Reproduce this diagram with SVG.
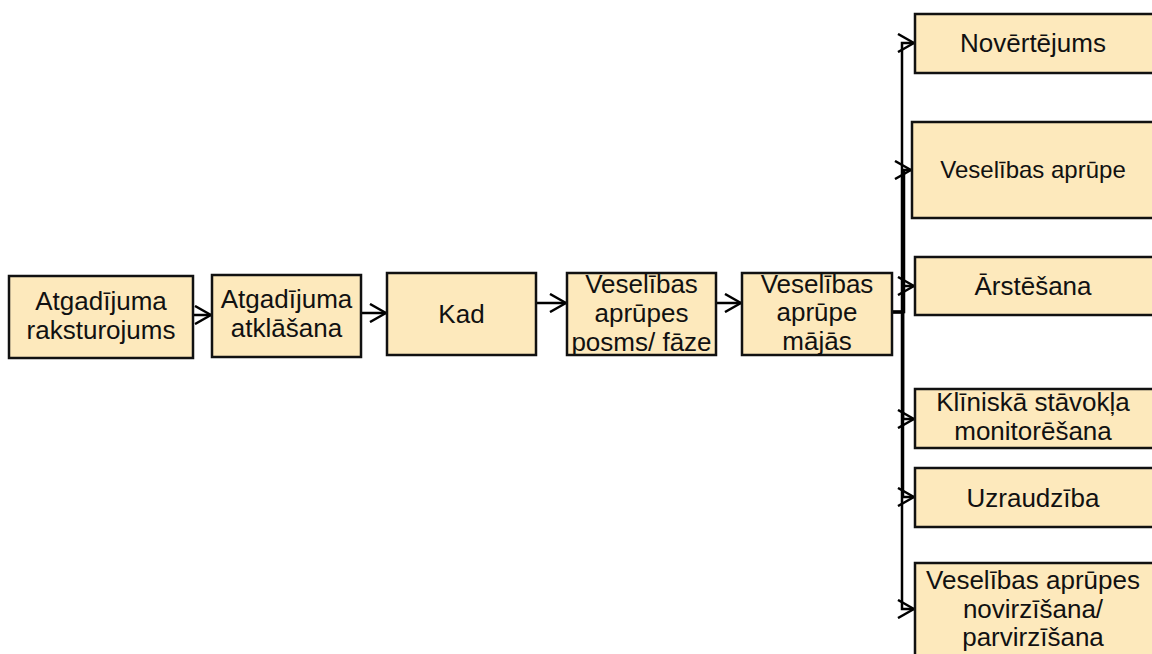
<svg xmlns="http://www.w3.org/2000/svg" width="1152" height="654" viewBox="0 0 1152 654">
<defs>
<style>
.box{fill:#FDE9BC;stroke:#111;stroke-width:2.5}
.t{font-family:"Liberation Sans",Arial,sans-serif;font-size:26px;fill:#111;text-anchor:middle}
.s{font-size:24px}
.c{fill:none;stroke:#000;stroke-width:2.5}
</style>
<marker id="ah" viewBox="0 0 18 20" refX="17" refY="10" markerWidth="18" markerHeight="20" markerUnits="userSpaceOnUse" orient="auto">
<path d="M1,1 L17,10 L1,19" fill="none" stroke="#000" stroke-width="2.5"/>
</marker>
</defs>
<rect width="1152" height="654" fill="#fff"/>
<g id="connectors">
<path class="c" d="M193,315 H211" marker-end="url(#ah)"/>
<path class="c" d="M361,313 H386" marker-end="url(#ah)"/>
<path class="c" d="M536,303 H566" marker-end="url(#ah)"/>
<path class="c" d="M716,303 H741" marker-end="url(#ah)"/>
<path class="c" d="M892,312 H902 V43 H914" marker-end="url(#ah)"/>
<path class="c" d="M892,312 H904 V170 H911" marker-end="url(#ah)"/>
<path class="c" d="M892,312 H903 V286 H914" marker-end="url(#ah)"/>
<path class="c" d="M892,312 H903 V419 H914" marker-end="url(#ah)"/>
<path class="c" d="M892,312 H903 V497 H914" marker-end="url(#ah)"/>
<path class="c" d="M892,312 H902 V609 H914" marker-end="url(#ah)"/>
</g>
<g id="n1"><rect class="box" x="9" y="276" width="184" height="82"/><text class="t" x="101" y="310">Atgadījuma</text><text class="t" x="101" y="339">raksturojums</text></g>
<g id="n2"><rect class="box" x="212" y="275" width="149" height="82"/><text class="t" x="286.5" y="308">Atgadījuma</text><text class="t" x="286.5" y="337">atklāšana</text></g>
<g id="n3"><rect class="box" x="387" y="273" width="149" height="82"/><text class="t" x="461.5" y="323">Kad</text></g>
<g id="n4"><rect class="box" x="567" y="273" width="149" height="82"/><text class="t" x="641.5" y="293">Veselības</text><text class="t" x="641.5" y="322">aprūpes</text><text class="t" x="641.5" y="351">posms/ fāze</text></g>
<g id="n5"><rect class="box" x="742" y="273" width="150" height="82"/><text class="t" x="817" y="293">Veselības</text><text class="t" x="817" y="321">aprūpe</text><text class="t" x="817" y="350">mājās</text></g>
<g id="r1"><rect class="box" x="915" y="14" width="250" height="59"/><text class="t" x="1033" y="52">Novērtējums</text></g>
<g id="r2"><rect class="box" x="912" y="122" width="253" height="96"/><text class="t s" x="1033" y="178">Veselības aprūpe</text></g>
<g id="r3"><rect class="box" x="915" y="257" width="250" height="58"/><text class="t" x="1033" y="295">Ārstēšana</text></g>
<g id="r4"><rect class="box" x="915" y="389" width="250" height="59"/><text class="t" x="1033" y="411">Klīniskā stāvokļa</text><text class="t" x="1033" y="440">monitorēšana</text></g>
<g id="r5"><rect class="box" x="915" y="468" width="250" height="59"/><text class="t" x="1033" y="507">Uzraudzība</text></g>
<g id="r6"><rect class="box" x="915" y="563" width="250" height="100"/><text class="t" x="1033" y="589">Veselības aprūpes</text><text class="t" x="1033" y="618">novirzīšana/</text><text class="t" x="1033" y="646">parvirzīšana</text></g>
</svg>
